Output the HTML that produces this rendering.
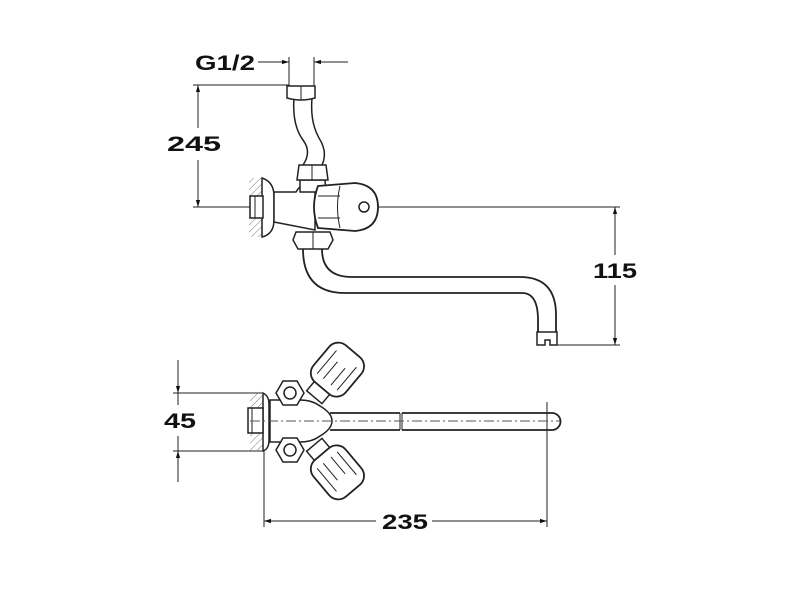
<!DOCTYPE html>
<html><head><meta charset="utf-8"><style>
html,body{margin:0;padding:0;background:#fff;}
svg{display:block;}
text{font-family:"Liberation Sans",Arial,sans-serif;font-weight:bold;font-size:21px;fill:#111;}
</style></head><body>
<svg width="800" height="600" viewBox="0 0 800 600" xmlns="http://www.w3.org/2000/svg">
<defs>
<pattern id="h" width="5" height="5" patternUnits="userSpaceOnUse" patternTransform="rotate(45)">
<line x1="0" y1="0" x2="0" y2="5" stroke="#777" stroke-width="1"/></pattern>
<marker id="a" viewBox="0 0 10 10" refX="10" refY="5" markerWidth="7" markerHeight="7" orient="auto-start-reverse"><path d="M0,2 L10,5 L0,8z" fill="#111"/></marker>
</defs>
<g stroke="#222" stroke-width="1" fill="none">
<!-- TOP VIEW dimensions -->
<line x1="258" y1="62" x2="289" y2="62" marker-end="url(#a)"/>
<line x1="348" y1="62" x2="314" y2="62" marker-end="url(#a)"/>
<line x1="289" y1="57" x2="289" y2="86"/>
<line x1="314" y1="57" x2="314" y2="86"/>
<line x1="193" y1="85" x2="289" y2="85"/>
<line x1="198" y1="85" x2="198" y2="128" marker-start="url(#a)"/>
<line x1="198" y1="160" x2="198" y2="207" marker-end="url(#a)"/>
<line x1="193" y1="207" x2="250" y2="207"/>
<line x1="250" y1="207" x2="378" y2="207" stroke-dasharray="10,3,2,3"/>
<line x1="378" y1="207" x2="620" y2="207"/>
<line x1="615" y1="207" x2="615" y2="255" marker-start="url(#a)"/>
<line x1="615" y1="285" x2="615" y2="345" marker-end="url(#a)"/>
<line x1="556" y1="345" x2="620" y2="345"/>
<!-- wall -->
<rect x="249" y="178" width="13" height="59" fill="url(#h)" stroke="none"/>
<path d="M262,178 Q274,182 274,196 L274,220 Q274,234 262,237 Z" fill="#fff" stroke-width="1.5"/>
<rect x="250" y="196" width="13" height="22" fill="#fff" stroke-width="1.5"/>
<line x1="255" y1="196" x2="255" y2="218"/>
<!-- body -->
<path d="M274,192 L296,192 Q300,185 306,184 L315,184 L315,230 L274,222 Z" fill="#fff" stroke-width="1.5"/>
<path d="M300,180 L325,180 L326,192 L300,192Z" fill="#fff" stroke-width="1.5"/>
<path d="M299,165 L326,165 L328,180 L297,180 Z" fill="#fff" stroke-width="1.5"/>
<line x1="312" y1="165" x2="312" y2="180"/>
<!-- hose -->
<path d="M294,98 Q292,125 303,140 Q312,152 303,165 M312,98 Q310,122 319,138 Q328,152 322,165" stroke-width="1.5"/>
<path d="M287,86 L315,86 L315,98 Q301,102 287,98 Z" fill="#fff" stroke-width="1.5"/>
<line x1="301" y1="86" x2="301" y2="100"/>
<!-- knob -->
<path d="M318,186 L355,183 Q378,185 378,207 Q378,229 355,231 L318,228 Q310,207 318,186 Z" fill="#fff" stroke-width="1.8"/>
<path d="M340,186 Q335,207 340,228" />
<line x1="318" y1="196" x2="340" y2="196"/><line x1="318" y1="218" x2="340" y2="218"/>
<circle cx="364" cy="207" r="5" stroke-width="1.5"/>
<!-- lower nut -->
<path d="M296,232 L330,232 L333,240 L328,249 L298,249 L293,240Z" fill="#fff" stroke-width="1.5"/>
<line x1="313" y1="232" x2="313" y2="249"/>
<!-- spout -->
<path d="M303,249 Q303,293 345,293 L522,293 Q538,293 538,320 L538,332 M322,249 Q322,277 352,277 L520,277 Q556,277 556,315 L556,332" stroke-width="1.8"/>
<path d="M537,332 L557,332 L557,345 L550,345 L550,340 L545,340 L545,345 L537,345Z" fill="#fff" stroke-width="1.5"/>
<!-- BOTTOM VIEW dims -->
<line x1="178" y1="360" x2="178" y2="393" marker-end="url(#a)"/>
<line x1="178" y1="482" x2="178" y2="451" marker-end="url(#a)"/>
<line x1="178" y1="393" x2="178" y2="405"/>
<line x1="178" y1="436" x2="178" y2="451"/>
<line x1="173" y1="393" x2="262" y2="393"/>
<line x1="173" y1="451" x2="262" y2="451"/>
<line x1="264" y1="398" x2="264" y2="527"/>
<line x1="547" y1="402" x2="547" y2="527"/>
<line x1="264" y1="521" x2="376" y2="521" marker-start="url(#a)"/>
<line x1="432" y1="521" x2="547" y2="521" marker-end="url(#a)"/>
<rect x="250" y="393" width="12" height="58" fill="url(#h)" stroke="none"/>
<path d="M263,393 Q269,396 269,404 L269,440 Q269,449 263,451 Z" fill="#fff" stroke-width="1.5"/>
<rect x="248" y="408" width="15" height="25" fill="#fff" stroke-width="1.5"/>
<line x1="252" y1="408" x2="252" y2="433"/>
<!-- knobs -->
<g transform="translate(322,388) rotate(-50)">
<rect x="-12" y="-10" width="14" height="20" fill="#fff" stroke-width="1.5"/>
<rect x="0" y="-21" width="48" height="42" rx="12" fill="#fff" stroke-width="1.8"/>
<path d="M8,-13 L38,-13 M8,13 L38,13 M8,-5 L30,-5 M8,5 L30,5"/>
</g>
<g transform="translate(322,454) rotate(50)">
<rect x="-12" y="-10" width="14" height="20" fill="#fff" stroke-width="1.5"/>
<rect x="0" y="-21" width="48" height="42" rx="12" fill="#fff" stroke-width="1.8"/>
<path d="M8,-13 L38,-13 M8,13 L38,13 M8,-5 L30,-5 M8,5 L30,5"/>
</g>
<!-- body -->
<path d="M270,400 L300,400 Q312,400 320,406 Q332,413 332,421 Q332,429 320,436 Q312,442 300,442 L270,442Z" fill="#fff" stroke-width="1.5"/>
<!-- pipe -->
<path d="M330,413 L400,413 M402,413 L552,413 A8.5,8.5 0 0 1 552,430 L402,430 M400,430 L330,430" stroke-width="1.8"/>
<line x1="400" y1="413" x2="400" y2="430"/><line x1="402" y1="413" x2="402" y2="430"/>
<!-- hex nuts -->
<path d="M283,381 L297,381 L304,393 L297,405 L283,405 L276,393Z" fill="#fff" stroke-width="1.5"/>
<circle cx="290" cy="393" r="6" stroke-width="1.5"/>
<path d="M283,438 L297,438 L304,450 L297,462 L283,462 L276,450Z" fill="#fff" stroke-width="1.5"/>
<circle cx="290" cy="450" r="6" stroke-width="1.5"/>
<line x1="250" y1="421" x2="560" y2="421" stroke-dasharray="10,3,2,3" stroke="#555"/>
</g>
<text x="195" y="70" textLength="60" lengthAdjust="spacingAndGlyphs">G1/2</text>
<text x="167" y="151" textLength="54" lengthAdjust="spacingAndGlyphs">245</text>
<text x="593" y="278" textLength="44" lengthAdjust="spacingAndGlyphs">115</text>
<text x="164" y="428" textLength="32" lengthAdjust="spacingAndGlyphs">45</text>
<text x="382" y="529" textLength="46" lengthAdjust="spacingAndGlyphs">235</text>
</svg>
</body></html>
